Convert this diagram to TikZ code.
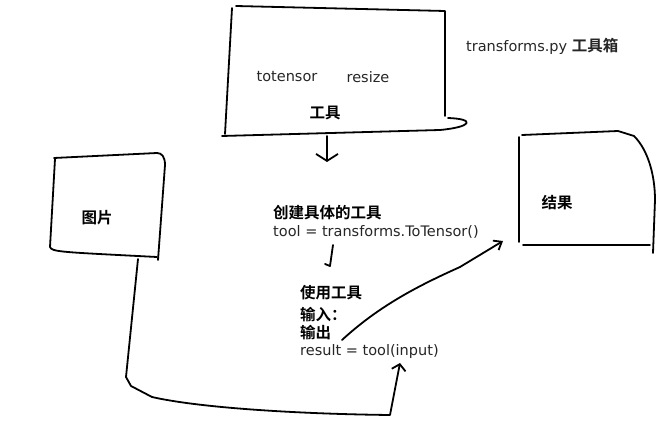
\documentclass[tikz,border=0pt]{standalone}
\usepackage{fontspec}
\setmainfont{DejaVu Sans}
\newfontfamily\cjkb{Noto Sans CJK SC Bold}
\usetikzlibrary{arrows.meta}
\tikzset{
  sketch/.style={line width=1.8pt, line cap=round, line join=round, black},
  lat/.style={font=\fontsize{14.5}{17}\selectfont, inner sep=0pt, text=black!85},
  zh/.style={font=\cjkb\fontsize{15.5}{18}\selectfont, inner sep=0pt},
  bigbarb/.style={-{Straight Barb[length=7pt,width=22pt]}},
  midbarb/.style={-{Straight Barb[length=6pt,width=14pt]}},
  smallbarb/.style={-{Straight Barb[length=7pt,width=11pt]}},
}
\begin{document}
\begin{tikzpicture}[x=1pt,y=-1pt]
\useasboundingbox (0,0) rectangle (672,427);
% tool box
\draw[sketch] (236,6) -- (445,11) -- (445,116);
\draw[sketch] (232,8) -- (225,134);
\draw[sketch] (222,136) -- (440,130) .. controls (472,127) and (476,119) .. (448,118);
\coordinate (toolbot) at (327,136);
\node[lat] (totensor) at (287,77) {totensor};
\node[lat] (resize) at (368,77) {resize};
\node[zh] (gongju) at (325,113) {工具};
\node[lat, anchor=west] (tbox) at (466,46) {transforms.py {\cjkb\fontsize{15.5}{18}\selectfont 工具箱}};
% picture box
\draw[sketch] (55,159) -- (50,247) .. controls (52,252) and (60,252) .. (157,257);
\draw[sketch] (54,158) -- (157,153) .. controls (162,153) and (165,157) .. (165,165) -- (158,260);
\node[zh] (pic) at (97,218) {图片};
\coordinate (picbot) at (138,259);
% result box
\draw[sketch] (519,137) -- (519,242);
\draw[sketch] (522,135) -- (618,131) -- (634,136) .. controls (648,150) and (655,175) .. (655,200) -- (653,253);
\draw[sketch] (523,245) -- (650,245);
\node[zh] (res) at (557,203) {结果};
\coordinate (resin) at (503,241);
% middle text
\node[zh, anchor=west] (create) at (273,213) {创建具体的工具};
\node[lat, anchor=west] (toolline) at (273,232) {tool = transforms.ToTensor()};
\node[zh, anchor=west] (use) at (300,293) {使用工具};
\node[zh, anchor=west] (inp) at (300,315) {输入：};
\node[zh, anchor=west] (outp) at (300,333) {输出};
\node[lat, anchor=west] (resline) at (300,352) {result = tool(input)};
\coordinate (jtop) at (333,245);
\coordinate (jbot) at (330,266);
\coordinate (inputpt) at (400,363);
\coordinate (outstart) at (342,340);
% connectors
\draw[sketch, bigbarb] (toolbot) -- (327,162);
\draw[sketch] (jtop) -- (jbot) -- (325,264);
\draw[sketch, midbarb] (picbot) -- (126,377) -- (131,386) -- (152,397) .. controls (200,408) and (300,414) .. (390,415) -- (inputpt);
\draw[sketch, smallbarb] (outstart) .. controls (380,305) and (420,285) .. (460,267) -- (resin);
\end{tikzpicture}
\end{document}
